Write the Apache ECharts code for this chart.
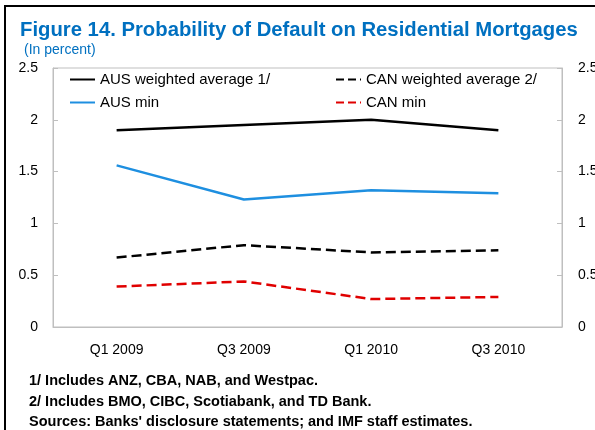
<!DOCTYPE html>
<html>
<head>
<meta charset="utf-8">
<script src="https://cdn.jsdelivr.net/npm/echarts@6/dist/echarts.min.js"></script>
<style>
  html, body { margin: 0; padding: 0; background: #fff; }
  #frame { position: absolute; left: 4px; top: 5px; width: 600px; height: 440px;
           border-left: 2px solid #000; border-top: 2px solid #000; }
  #main { position: absolute; left: 0; top: 0; width: 595px; height: 430px; }
</style>
</head>
<body>
<div id="frame"></div>
<div id="main"></div>
<script>
var quarters = ['Q1 2009', 'Q3 2009', 'Q1 2010', 'Q3 2010'];
var ausAvg = [1.90, 1.95, 2.00, 1.90];
var ausMin = [1.56, 1.23, 1.32, 1.29];
var canAvg = [0.67, 0.79, 0.72, 0.74];
var canMin = [0.39, 0.44, 0.27, 0.29];

var font = '"Liberation Sans", Arial, sans-serif';
var blue = '#0070c0';

function line (name, data, color, type) {
  return {
    name: name,
    type: 'line',
    data: data,
    symbol: 'none',
    lineStyle: { color: color, width: 2.5, type: type },
    itemStyle: { color: color }
  };
}

var legendBase = {
  orient: 'vertical', top: 67,
  itemWidth: 25, itemHeight: 10, itemGap: 8,
  itemStyle: { opacity: 0 },
  textStyle: { fontSize: 15, fontFamily: font, color: '#000' }
};

var chart = echarts.init(document.getElementById('main'));
chart.setOption({
  animation: false,
  title: [
    { text: 'Figure 14. Probability of Default on Residential Mortgages', left: 15, top: 15,
      textStyle: { color: blue, fontSize: 20.3, fontWeight: 'bold', fontFamily: font } },
    { text: '(In percent)', left: 19, top: 38,
      textStyle: { color: blue, fontSize: 14, fontWeight: 'normal', fontFamily: font } },
    { text: '1/ Includes ANZ, CBA, NAB, and Westpac.\n2/ Includes BMO, CIBC, Scotiabank, and TD Bank.\nSources: Banks\' disclosure statements; and IMF staff estimates.',
      left: 24, top: 366,
      textStyle: { color: '#000', fontSize: 14.5, fontWeight: 'bold', fontFamily: font, lineHeight: 20.5 } }
  ],
  legend: [
    Object.assign({ data: ['AUS weighted average 1/', 'AUS min'], left: 64 }, legendBase),
    Object.assign({ data: ['CAN weighted average 2/', 'CAN min'], left: 330 }, legendBase)
  ],
  grid: { left: 53, right: 33, top: 68, bottom: 103, outerBoundsMode: 'none',
          show: true, borderColor: '#bfbfbf', borderWidth: 1 },
  xAxis: {
    type: 'category',
    data: quarters,
    boundaryGap: true,
    axisLine: { lineStyle: { color: '#bfbfbf' } },
    axisTick: { inside: true, length: 5, lineStyle: { color: '#bfbfbf' } },
    axisLabel: { color: '#000', fontSize: 14, fontFamily: font, margin: 16 }
  },
  yAxis: [
    { type: 'value', min: 0, max: 2.5, interval: 0.5, position: 'left',
      axisLine: { show: true, lineStyle: { color: '#bfbfbf' } },
      axisTick: { show: true, inside: true, length: 5, lineStyle: { color: '#bfbfbf' } },
      splitLine: { show: false },
      axisLabel: { color: '#000', fontSize: 14, fontFamily: font, margin: 15 } },
    { type: 'value', min: 0, max: 2.5, interval: 0.5, position: 'right',
      axisLine: { show: true, lineStyle: { color: '#bfbfbf' } },
      axisTick: { show: true, inside: true, length: 5, lineStyle: { color: '#bfbfbf' } },
      splitLine: { show: false },
      axisLabel: { color: '#000', fontSize: 14, fontFamily: font, margin: 16 } }
  ],
  series: [
    line('AUS weighted average 1/', ausAvg, '#000', 'solid'),
    line('CAN weighted average 2/', canAvg, '#000', 'dashed'),
    line('AUS min', ausMin, '#1e8fe0', 'solid'),
    line('CAN min', canMin, '#e00000', 'dashed')
  ]
});
</script>
</body>
</html>
